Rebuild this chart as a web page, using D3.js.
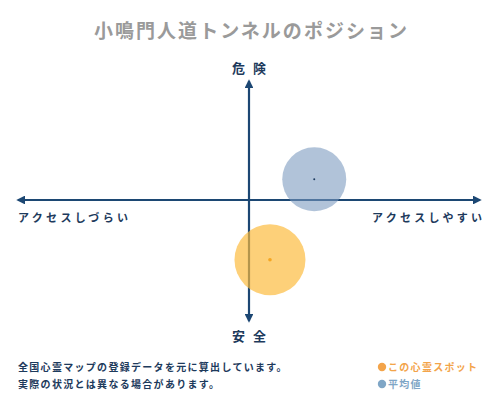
<!DOCTYPE html>
<html>
<head>
<meta charset="utf-8">
<script src="https://cdn.jsdelivr.net/npm/d3@7"></script>
<style>
	body { margin: 0; background: #fff; }
	text { font-family: "Noto Sans CJK JP", "Noto Sans", sans-serif; font-weight: 700; }
</style>
</head>
<body>
<script>
// chart data
const titleText = "小鳴門人道トンネルのポジション";
const axisLabels = ["危険", "安全", "アクセスしづらい", "アクセスしやすい"];
const seriesNames = ["この心霊スポット", "平均値"];
const accessValues = [0.9, 2.8];   // x: access (-10..10)
const dangerValues = [-4.9, 1.7];  // y: danger (-10..10)
const sizeValues = [35.5, 32];
const noteLines = ["全国心霊マップの登録データを元に算出しています。", "実際の状況とは異なる場合があります。"];

const W = 500, H = 400;
const navy = "#1c4773";
const fills = ["rgba(252,186,58,0.68)", "rgba(120,152,190,0.58)"];
const dots = ["#f5a623", "#1c3a5e"];
const legendColors = ["#f3a44a", "#7fa6c6"];

let svg = d3.select("body").append("svg")
	.attr("width", W)
	.attr("height", H);

let x = d3.scaleLinear().domain([-10, 10]).range([16, 482]);
let y = d3.scaleLinear().domain([-10, 10]).range([322, 78]);
let r = d3.scaleLinear().domain([0, 100]).range([0, 100]);

//arrow marker
svg.append("defs").append("marker")
	.attr("id", "arrow")
	.attr("viewBox", "0 0 10 10")
	.attr("refX", 8).attr("refY", 5)
	.attr("markerWidth", 4).attr("markerHeight", 4)
	.attr("orient", "auto-start-reverse")
	.append("path")
	.attr("d", "M0,0 L10,5 L0,10 z")
	.attr("fill", navy);

//title
svg.append("text")
	.attr("x", 250.5)
	.attr("y", 38)
	.attr("text-anchor", "middle")
	.attr("fill", "#9a9a9a")
	.attr("textLength", 313)
	.attr("lengthAdjust", "spacing")
	.style("font-size", "19px")
	.text(titleText);

//axes
svg.append("line")
	.attr("x1", x(-10) + 2).attr("x2", x(10) - 2)
	.attr("y1", y(0)).attr("y2", y(0))
	.attr("stroke", navy).attr("stroke-width", 2.2)
	.attr("marker-start", "url(#arrow)")
	.attr("marker-end", "url(#arrow)");

svg.append("line")
	.attr("x1", x(0)).attr("x2", x(0))
	.attr("y1", y(10) + 3).attr("y2", y(-10) - 1)
	.attr("stroke", navy).attr("stroke-width", 2.2)
	.attr("marker-start", "url(#arrow)")
	.attr("marker-end", "url(#arrow)");

//axis labels
let labelStyle = sel => sel.attr("fill", "#1d3a5c").style("font-size", "13px").style("letter-spacing", "8px");
svg.append("text").attr("x", x(0) + 4).attr("y", 73).attr("text-anchor", "middle").text(axisLabels[0]).call(labelStyle);
svg.append("text").attr("x", x(0) + 4).attr("y", 341).attr("text-anchor", "middle").text(axisLabels[1]).call(labelStyle);
svg.append("text").attr("x", 18).attr("y", 222)
	.attr("fill", "#1d3a5c").style("font-size", "11px")
	.attr("textLength", 110).attr("lengthAdjust", "spacing")
	.text(axisLabels[2]);
svg.append("text").attr("x", 482).attr("y", 222).attr("text-anchor", "end")
	.attr("fill", "#1d3a5c").style("font-size", "11px")
	.attr("textLength", 110).attr("lengthAdjust", "spacing")
	.text(axisLabels[3]);

//bubbles
let points = seriesNames.map((n, i) => ({ name: n, a: accessValues[i], d: dangerValues[i], s: sizeValues[i], i: i }));

svg.selectAll("circle.bubble")
	.data(points)
	.enter().append("circle")
	.attr("class", "bubble")
	.attr("cx", d => x(d.a))
	.attr("cy", d => y(d.d))
	.attr("r", d => r(d.s))
	.attr("fill", d => fills[d.i]);

svg.selectAll("circle.center")
	.data(points)
	.enter().append("circle")
	.attr("class", "center")
	.attr("cx", d => x(d.a))
	.attr("cy", d => y(d.d))
	.attr("r", d => d.i == 0 ? 1.8 : 1)
	.attr("fill", d => dots[d.i]);

//notes
svg.selectAll("text.note")
	.data(noteLines)
	.enter().append("text")
	.attr("class", "note")
	.attr("x", 18)
	.attr("y", (d, i) => 371 + i * 17)
	.attr("fill", "#1d3a5c")
	.style("font-size", "10px")
	.style("letter-spacing", "1.3px")
	.text(d => d);

//legend
let legend = svg.selectAll("g.legend")
	.data(points)
	.enter().append("g")
	.attr("class", "legend")
	.attr("transform", (d, i) => `translate(382, ${367 + i * 17})`);

legend.append("circle")
	.attr("r", 4.2)
	.attr("fill", d => legendColors[d.i]);

legend.append("text")
	.attr("x", 6)
	.attr("y", 4)
	.attr("fill", d => legendColors[d.i])
	.style("font-size", "10px")
	.style("letter-spacing", "1.3px")
	.text(d => d.name);
</script>
</body>
</html>
